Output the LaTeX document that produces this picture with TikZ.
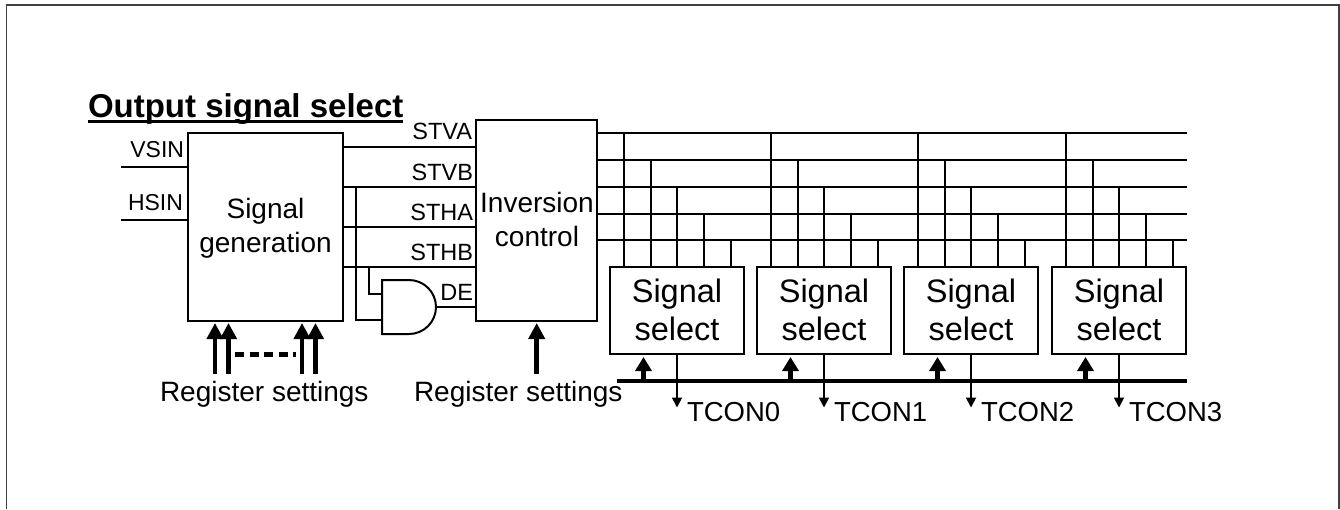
\documentclass[tikz,border=0pt]{standalone}
\usepackage{fontspec}
\setmainfont{Liberation Sans}
\usetikzlibrary{arrows.meta,calc}
\newcommand{\fs}[1]{\fontsize{#1}{#1}\selectfont}
\tikzset{
  x=1pt,y=-1pt,
  wire/.style={draw=black,line width=1.8pt},
  blockbox/.style={draw=black,line width=2pt,inner sep=0pt,outer sep=0pt,anchor=north west,align=center},
  lbl/.style={inner sep=0pt,outer sep=0pt,anchor=base west},
  lblr/.style={inner sep=0pt,outer sep=0pt,anchor=base east},
  regarrow/.style={draw=black,line width=4.5pt,-{Triangle[length=16pt,width=16pt]},shorten >=2pt},
  busarrow/.style={draw=black,line width=4.5pt,-{Triangle[length=14pt,width=16pt]},shorten >=3pt},
  downarrow/.style={draw=black,line width=1.8pt,-{Triangle[length=10pt,width=10pt]}},
}
\begin{document}
\begin{tikzpicture}
\useasboundingbox (0,0) rectangle (1340,509);
\draw[draw=black!75,line width=1.6pt] (6.5,509) -- (6.5,5) -- (1339,5) -- (1339,509);
% title
\node[lbl,font=\bfseries\fs{33}] (title) at (88,117) {Output signal select};
\coordinate (tl) at (88,121); \coordinate (tr) at (403,121);
\draw[line width=3pt] (tl) -- (tr);
% main blocks
\node[blockbox,minimum width=155pt,minimum height=188pt] (gen) at (188,133) {};
\node[lbl,font=\fs{28},anchor=base] (gen1) at (265.5,218) {Signal};
\node[lbl,font=\fs{28},anchor=base] (gen2) at (265.5,252) {generation};
\node[blockbox,minimum width=121pt,minimum height=201pt] (inv) at (476,120) {};
\node[lbl,font=\fs{28},anchor=base] (inv1) at (537,212) {Inversion};
\node[lbl,font=\fs{28},anchor=base] (inv2) at (537,246) {control};
% inputs
\coordinate (vs) at (121,167); \coordinate (hs) at (121,220);
\draw[wire] (vs) -- (vs -| gen.west);
\draw[wire] (hs) -- (hs -| gen.west);
\node[lblr,font=\fs{23}] (vsin) at (184,157) {VSIN};
\node[lblr,font=\fs{23}] (hsin) at (183,210) {HSIN};
% gen -> inv
\foreach \n/\y in {a/147,b/187,c/227,d/267}{
  \coordinate (o\n) at (343,\y);
  \draw[wire] (o\n) -- (o\n -| inv.west);
}
\node[lblr,font=\fs{23.5}] (stva) at (472,139) {STVA};
\node[lblr,font=\fs{23.5}] (stvb) at (473,180) {STVB};
\node[lblr,font=\fs{23.5}] (stha) at (473,220) {STHA};
\node[lblr,font=\fs{23.5}] (sthb) at (473,260) {STHB};
\node[lblr,font=\fs{23.5}] (de) at (473,300) {DE};
% AND gate
\coordinate (g1) at (382,294); \coordinate (g2) at (382,320); \coordinate (gout) at (436,307);
\draw[draw=black,line width=2pt,fill=white] (382,280) -- (409,280) arc[start angle=-90,end angle=90,x radius=27pt,y radius=-27pt] -- (382,334) -- cycle;
\coordinate (t1) at (356,187); \coordinate (t2) at (369,267);
\draw[wire] (t1) |- (g2);
\draw[wire] (t2) |- (g1);
\draw[wire] (gout) -- (gout -| inv.west);
% output buses
\foreach \n/\y in {1/133,2/160,3/187,4/214,5/240}{
  \coordinate (bs\n) at (597,\y);
  \coordinate (be\n) at (1187,\y);
  \draw[wire] (bs\n) -- (be\n);
}
% data bus
\coordinate (dbs) at (617,381); \coordinate (dbe) at (1187,381);
\draw[line width=4.5pt] (dbs) -- (dbe);
% signal select blocks
\foreach \i/\x/\t/\dnx/\c in {0/610/624/677/TCON0,1/757/771/824/TCON1,2/904/918/971/TCON2,3/1052/1066/1119/TCON3}{
  \node[blockbox,minimum width=134pt,minimum height=87pt] (sel\i) at (\x,267) {};
  \node[lbl,font=\fs{32.5},anchor=base] (sa\i) at ($(sel\i.north)+(0,35)$) {Signal};
  \node[lbl,font=\fs{32.5},anchor=base] (sb\i) at ($(sel\i.north)+(0,73)$) {select};
  \foreach \dx/\b in {0/1,27/2,53/3,80/4,107/5}{
    \coordinate (tp) at (\t+\dx,0);
    \draw[wire] (tp |- bs\b) -- (tp |- sel\i.north);
  }
  \coordinate (up\i) at (\x+33.5,381);
  \draw[busarrow] (up\i) -- (up\i |- sel\i.south);
  \coordinate (dn\i) at (\dnx,407.5);
  \draw[downarrow] (dn\i |- sel\i.south) -- (dn\i);
  \node[lbl,font=\fs{27.5}] (tc\i) at (\x+77,421) {\c};
}
% register settings arrows
\foreach \n/\x in {a/215,b/228.5,c/302,d/315.5}{
  \coordinate (r\n) at (\x,374);
  \draw[regarrow] (r\n) -- (r\n |- gen.south);
}
\coordinate (rd1) at (235,354); \coordinate (rd2) at (296,354);
\draw[line width=5pt,dash pattern=on 9pt off 5.5pt] (rd1) -- (rd2);
\coordinate (re) at (536.7,374);
\draw[regarrow] (re) -- (re |- inv.south);
\node[lbl,font=\fs{28}] (rs1) at (160,401) {Register settings};
\node[lbl,font=\fs{28}] (rs2) at (414,401) {Register settings};
\end{tikzpicture}
\end{document}
